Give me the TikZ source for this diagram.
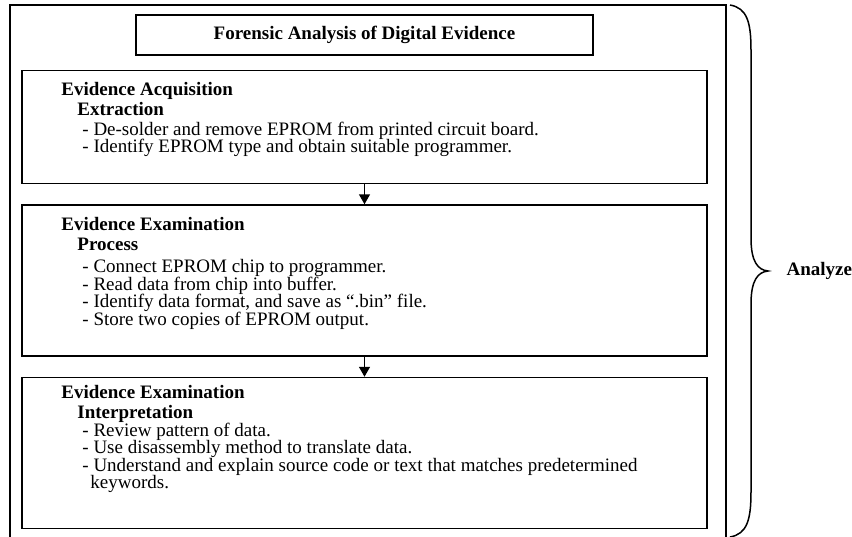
\documentclass[tikz,border=0pt]{standalone}
\usepackage{fontspec}
\setmainfont{Liberation Serif}
\usetikzlibrary{positioning,calc,arrows.meta}
\newcommand{\stepfont}{\fontsize{19}{17.5}\selectfont\lineskiplimit=-20pt\relax}

\begin{document}
\begin{tikzpicture}[x=1pt, y=-1pt,
    box/.style={draw, rectangle, line width=1.5pt, minimum width=685pt, inner sep=0pt},
    titlebox/.style={draw, rectangle, line width=1.5pt, minimum width=457pt, minimum height=40pt, font=\fontsize{19}{18}\selectfont\bfseries},
    steps/.style={anchor=north west, align=left, inner sep=0pt, font=\stepfont},
    arrow/.style={-{Triangle[length=10pt, width=11pt]}, line width=1.5pt},
    brace/.style={line width=1.5pt},
    side/.style={anchor=west, font=\fontsize{19}{18}\selectfont\bfseries}
]
\useasboundingbox (0,0) rectangle (852,536);

% Frame
\draw[line width=1.5pt] (10,560) -- (10,5) -- (726,5) -- (726,560);

% Boxes
\node[titlebox] (title) at (364.5,35) {Forensic Analysis of Digital Evidence};
\node[box, minimum height=113pt, below=14pt of title] (acq) {};
\node[box, minimum height=151pt, below=20pt of acq] (proc) {};
\node[box, minimum height=151pt, below=20pt of proc] (interp) {};

% Texts
\node[steps] (acqtext) at ([xshift=40pt, yshift=-12pt]acq.north west) {%
  \textbf{Evidence Acquisition}\\[2.5pt]
  \hspace*{16pt}\textbf{Extraction}\\[2.5pt]
  \hspace*{21pt}- De-solder and remove EPROM from printed circuit board.\\
  \hspace*{21pt}- Identify EPROM type and obtain suitable programmer.};
\node[steps] (proctext) at ([xshift=40pt, yshift=-12.5pt]proc.north west) {%
  \textbf{Evidence Examination}\\[2.5pt]
  \hspace*{16pt}\textbf{Process}\\[5pt]
  \hspace*{21pt}- Connect EPROM chip to programmer.\\
  \hspace*{21pt}- Read data from chip into buffer.\\
  \hspace*{21pt}- Identify data format, and save as ``.bin'' file.\\
  \hspace*{21pt}- Store two copies of EPROM output.};
\node[steps] (interptext) at ([xshift=40pt, yshift=-8.5pt]interp.north west) {%
  \textbf{Evidence Examination}\\[2.5pt]
  \hspace*{16pt}\textbf{Interpretation}\\
  \hspace*{21pt}- Review pattern of data.\\
  \hspace*{21pt}- Use disassembly method to translate data.\\
  \hspace*{21pt}- Understand and explain source code or text that matches predetermined\\
  \hspace*{29pt}keywords.};

% Arrows
\draw[arrow] (acq) -- (proc);
\draw[arrow] (proc) -- (interp);

% Brace
\coordinate (bracetop) at (730,5);
\coordinate (bracetip) at (768,271);
\coordinate (bracebot) at (730,537);
\draw[brace] (bracetop) .. controls (747,8) and (751,22) .. (751,50)
  -- (751,238) .. controls (751,262) and (758,270) .. (bracetip)
  .. controls (758,272) and (751,280) .. (751,304)
  -- (751,492) .. controls (751,520) and (747,534) .. (bracebot);
\node[side] (analyze) at (783,271) {Analyze};
\end{tikzpicture}
\end{document}
